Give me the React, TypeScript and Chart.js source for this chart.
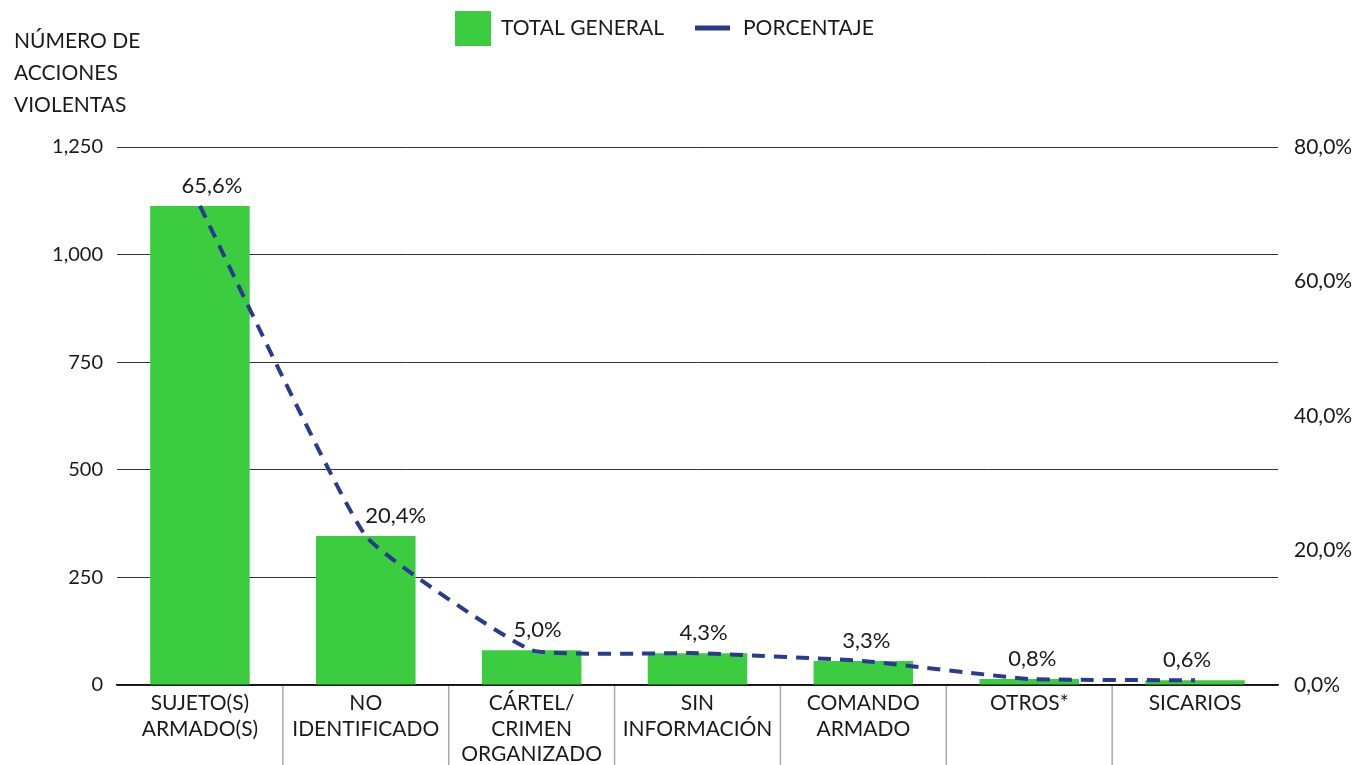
import React, { useEffect, useRef } from "react";
import { Chart, registerables } from "chart.js";

Chart.register(...registerables);

const categories: string[][] = [
  ["SUJETO(S)", "ARMADO(S)"],
  ["NO", "IDENTIFICADO"],
  ["CÁRTEL/", "CRIMEN", "ORGANIZADO"],
  ["SIN", "INFORMACIÓN"],
  ["COMANDO", "ARMADO"],
  ["OTROS*"],
  ["SICARIOS"],
];
const totalGeneral: number[] = [1113, 346, 81, 74, 56, 14, 11];
const porcentaje: number[] = [65.6, 20.4, 5.0, 4.3, 3.3, 0.8, 0.6];
const percentLabels: string[] = porcentaje.map((p) => p.toFixed(1).replace(".", ",") + "%");
const leftTicks: number[] = [0, 250, 500, 750, 1000, 1250];
const rightTicks: number[] = [0, 20, 40, 60, 80];
const yTitle: string[] = ["NÚMERO DE", "ACCIONES", "VIOLENTAS"];
const legendLabels: string[] = ["TOTAL GENERAL", "PORCENTAJE"];

const labelOffsetX: number[] = [12, 30, 6, 6, 3, 3, -8];

const GREEN = "#3bcc40";
const BLUE = "#2a3b8f";
const FONT = "Lato";
const TEXT = "#1a1a1a";

export default function App() {
  const ref = useRef<HTMLCanvasElement | null>(null);

  useEffect(() => {
    if (!ref.current) return;
    const overlay = {
      id: "overlay",
      afterDatasetsDraw(chart: any) {
        const ctx = chart.ctx;
        const x = chart.scales.x;
        const area = chart.chartArea;
        ctx.save();
        // separators below axis
        ctx.strokeStyle = "#a8a8a8";
        ctx.lineWidth = 1.5;
        for (let i = 0; i < categories.length - 1; i++) {
          const px = (x.getPixelForValue(i) + x.getPixelForValue(i + 1)) / 2;
          ctx.beginPath();
          ctx.moveTo(px, area.bottom + 1);
          ctx.lineTo(px, chart.height);
          ctx.stroke();
        }
        // percentage labels
        ctx.fillStyle = TEXT;
        ctx.font = `22px ${FONT}`;
        ctx.textAlign = "center";
        ctx.textBaseline = "middle";
        const bar = chart.getDatasetMeta(0);
        bar.data.forEach((el: any, i: number) => {
          ctx.fillText(percentLabels[i], el.x + labelOffsetX[i], el.y - 20);
        });
        // y title
        ctx.textAlign = "left";
        ctx.textBaseline = "alphabetic";
        ctx.font = `21px ${FONT}`;
        yTitle.forEach((t, i) => ctx.fillText(t, 14, 48 + i * 32));
        // legend
        ctx.fillStyle = GREEN;
        ctx.fillRect(455, 11, 36, 35);
        ctx.fillStyle = TEXT;
        ctx.font = `21px ${FONT}`;
        ctx.textBaseline = "middle";
        ctx.fillText(legendLabels[0], 501, 28);
        ctx.strokeStyle = BLUE;
        ctx.lineWidth = 5;
        ctx.beginPath();
        ctx.moveTo(695, 28);
        ctx.lineTo(730, 28);
        ctx.stroke();
        ctx.fillText(legendLabels[1], 743, 28);
        ctx.restore();
      },
    };

    const chart = new Chart(ref.current, {
      type: "bar",
      data: {
        labels: categories,
        datasets: [
          {
            type: "bar",
            label: legendLabels[0],
            data: totalGeneral,
            backgroundColor: GREEN,
            categoryPercentage: 1,
            barPercentage: 0.6,
            yAxisID: "y",
            order: 2,
          },
          {
            type: "line",
            label: legendLabels[1],
            data: totalGeneral,
            borderColor: BLUE,
            borderWidth: 4,
            borderDash: [13, 9],
            pointRadius: 0,
            tension: 0.12,
            fill: false,
            yAxisID: "y",
            order: 1,
          } as any,
        ],
      },
      options: {
        animation: false,
        responsive: false,
        maintainAspectRatio: false,
        layout: { padding: { top: 147, left: 0, right: 0, bottom: 0 } },
        plugins: {
          legend: { display: false },
          tooltip: { enabled: false },
        },
        scales: {
          x: {
            grid: { display: false },
            border: { display: true, color: "#111", width: 1.5 },
            ticks: {
              color: TEXT,
              font: { family: FONT, size: 21, lineHeight: 1.2 },
              padding: -2,
              maxRotation: 0,
              autoSkip: false,
            },
            afterFit(s: any) {
              s.height = 80;
            },
          },
          y: {
            position: "left",
            min: 0,
            max: 1250,
            afterBuildTicks(s: any) {
              s.ticks = leftTicks.map((v) => ({ value: v }));
            },
            grid: { color: "#333", lineWidth: 1, drawTicks: false },
            border: { display: false },
            ticks: {
              color: TEXT,
              font: { family: FONT, size: 20 },
              padding: 14,
              callback: (v: any) => Number(v).toLocaleString("en-US"),
            },
            afterFit(s: any) {
              s.width = 117;
            },
          },
          y2: {
            position: "right",
            min: 0,
            max: 80,
            afterBuildTicks(s: any) {
              s.ticks = rightTicks.map((v) => ({ value: v }));
            },
            grid: { display: false },
            border: { display: false },
            ticks: {
              color: TEXT,
              font: { family: FONT, size: 21 },
              padding: 8,
              callback: (v: any) => Number(v).toFixed(1).replace(".", ",") + "%",
            },
            afterFit(s: any) {
              s.width = 77;
            },
          },
        },
      },
      plugins: [overlay],
    });
    return () => chart.destroy();
  }, []);

  return (
    <div style={{ position: "absolute", left: 0, top: 0, width: 1355, height: 765 }}>
      <canvas ref={ref} width={1355} height={765} style={{ display: "block" }} />
    </div>
  );
}
